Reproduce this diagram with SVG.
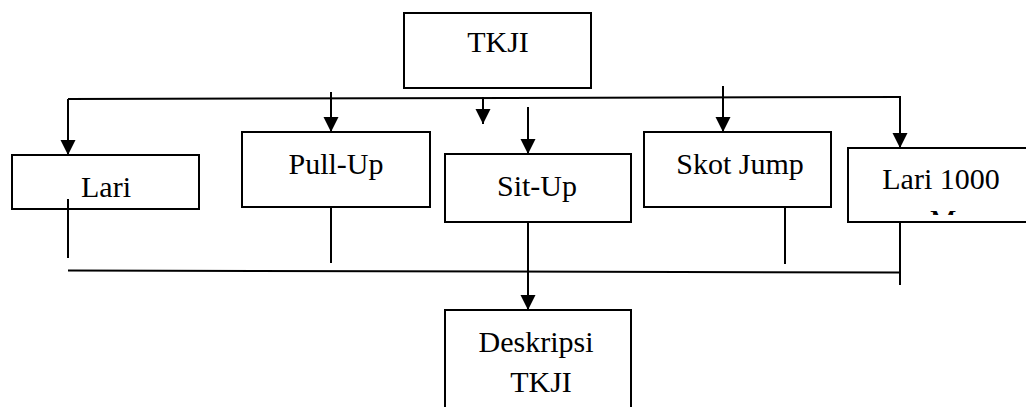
<svg xmlns="http://www.w3.org/2000/svg" width="1026" height="407" viewBox="0 0 1026 407">
<style>
.box{fill:#fff;stroke:#000;stroke-width:2}
.lbl{font-family:'Liberation Serif','Times New Roman','DejaVu Serif',serif;font-size:30px;fill:#000;text-anchor:middle}
.ln{fill:none;stroke:#000;stroke-width:2}
.arr{fill:none;stroke:#000;stroke-width:2;marker-end:url(#ah)}
</style>
<defs>
<marker id="ah" markerUnits="userSpaceOnUse" markerWidth="16" markerHeight="16" refX="15" refY="7.5" orient="auto">
<path d="M0,0 L15,7.5 L0,15 z" fill="#000"/>
</marker>
<clipPath id="clipM"><rect x="848" y="148" width="186" height="67"/></clipPath>
</defs>
<rect width="1026" height="407" fill="#fff"/>
<g id="node-tkji">
<rect class="box" x="404" y="13" width="187" height="75"/>
<text class="lbl" font-family="Liberation Serif, serif" x="498" y="52">TKJI</text>
</g>
<g id="node-lari">
<rect class="box" x="12" y="155" width="187" height="54"/>
<text class="lbl" font-family="Liberation Serif, serif" x="106" y="197">Lari</text>
</g>
<g id="node-pullup">
<rect class="box" x="242" y="132" width="188" height="75"/>
<text class="lbl" font-family="Liberation Serif, serif" x="336" y="174">Pull-Up</text>
</g>
<g id="node-situp">
<rect class="box" x="445" y="154" width="186" height="68"/>
<text class="lbl" font-family="Liberation Serif, serif" x="537" y="196">Sit-Up</text>
</g>
<g id="node-skotjump">
<rect class="box" x="644" y="132" width="187" height="75"/>
<text class="lbl" font-family="Liberation Serif, serif" x="740" y="174">Skot Jump</text>
</g>
<g id="node-lari1000">
<rect class="box" x="848" y="148" width="186" height="74"/>
<text class="lbl" font-family="Liberation Serif, serif" x="941" y="189">Lari 1000</text>
<text class="lbl" font-family="Liberation Serif, serif" x="943" y="230" clip-path="url(#clipM)">M</text>
</g>
<g id="node-deskripsi">
<rect class="box" x="445" y="310" width="186" height="110"/>
<text class="lbl" font-family="Liberation Serif, serif" x="536" y="352">Deskripsi</text>
<text class="lbl" font-family="Liberation Serif, serif" x="541" y="392">TKJI</text>
</g>
<g id="connectors">
<line class="ln" x1="68" y1="99" x2="901" y2="97"/>
<line class="arr" x1="68" y1="99" x2="68" y2="155"/>
<line class="arr" x1="331" y1="92" x2="331" y2="132"/>
<line class="arr" x1="483" y1="97" x2="483" y2="124"/>
<line class="arr" x1="528" y1="107" x2="528" y2="154"/>
<line class="arr" x1="723" y1="86" x2="723" y2="132"/>
<line class="arr" x1="900" y1="97" x2="900" y2="148"/>
<line class="ln" x1="68" y1="199" x2="68" y2="258"/>
<line class="ln" x1="331" y1="207" x2="331" y2="263"/>
<line class="arr" x1="528" y1="222" x2="528" y2="310"/>
<line class="ln" x1="785" y1="207" x2="785" y2="264"/>
<line class="ln" x1="900" y1="222" x2="900" y2="285"/>
<line class="ln" x1="68" y1="270.5" x2="900" y2="272.5"/>
</g>
</svg>
